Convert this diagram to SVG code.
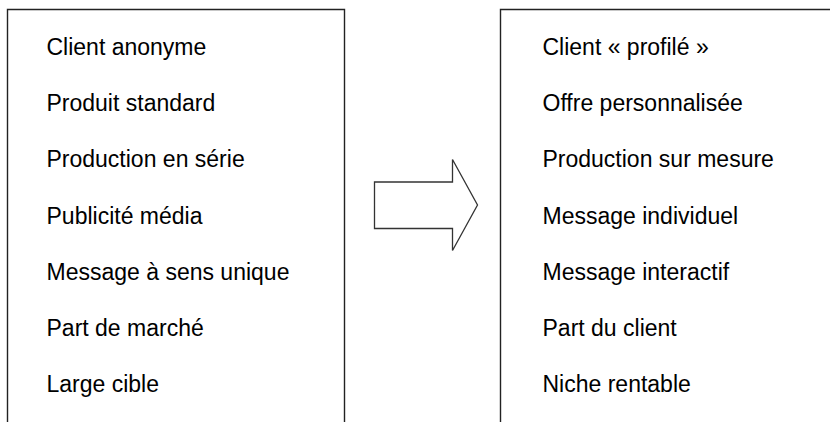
<svg xmlns="http://www.w3.org/2000/svg" width="830" height="422" viewBox="0 0 830 422">
  <style>
    .frame { fill: none; stroke: #222; stroke-width: 1.4; }
    .arrow { fill: #fff; stroke: #333; stroke-width: 1.3; stroke-linejoin: miter; }
    .item { font-family: "Liberation Sans", Arial, sans-serif; font-size: 23px; fill: #000; }
  </style>
  <rect width="830" height="422" fill="#fff"/>

  <!-- Left column: traditional model (bottom edge left open) -->
  <g id="left-box">
    <path class="frame" d="M7.5,422 V9.5 H344.5 V422"/>
    <text class="item" x="46.5" y="55">Client anonyme</text>
    <text class="item" x="46.5" y="111.2">Produit standard</text>
    <text class="item" x="46.5" y="167.4">Production en série</text>
    <text class="item" x="46.5" y="223.6">Publicité média</text>
    <text class="item" x="46.5" y="279.8">Message à sens unique</text>
    <text class="item" x="46.5" y="336">Part de marché</text>
    <text class="item" x="46.5" y="392.2">Large cible</text>
  </g>

  <!-- Right column: personalised model (runs past the right edge) -->
  <g id="right-box">
    <path class="frame" d="M500.5,422 V9.5 H832"/>
    <text class="item" x="542.5" y="55">Client « profilé »</text>
    <text class="item" x="542.5" y="111.2">Offre personnalisée</text>
    <text class="item" x="542.5" y="167.4">Production sur mesure</text>
    <text class="item" x="542.5" y="223.6">Message individuel</text>
    <text class="item" x="542.5" y="279.8">Message interactif</text>
    <text class="item" x="542.5" y="336">Part du client</text>
    <text class="item" x="542.5" y="392.2">Niche rentable</text>
  </g>

  <!-- Block arrow between the two columns -->
  <g id="connectors">
    <polygon class="arrow" points="374.5,182 452.5,182 452.5,159.5 477.5,205 452.5,250.5 452.5,228.5 374.5,228.5"/>
  </g>
</svg>
